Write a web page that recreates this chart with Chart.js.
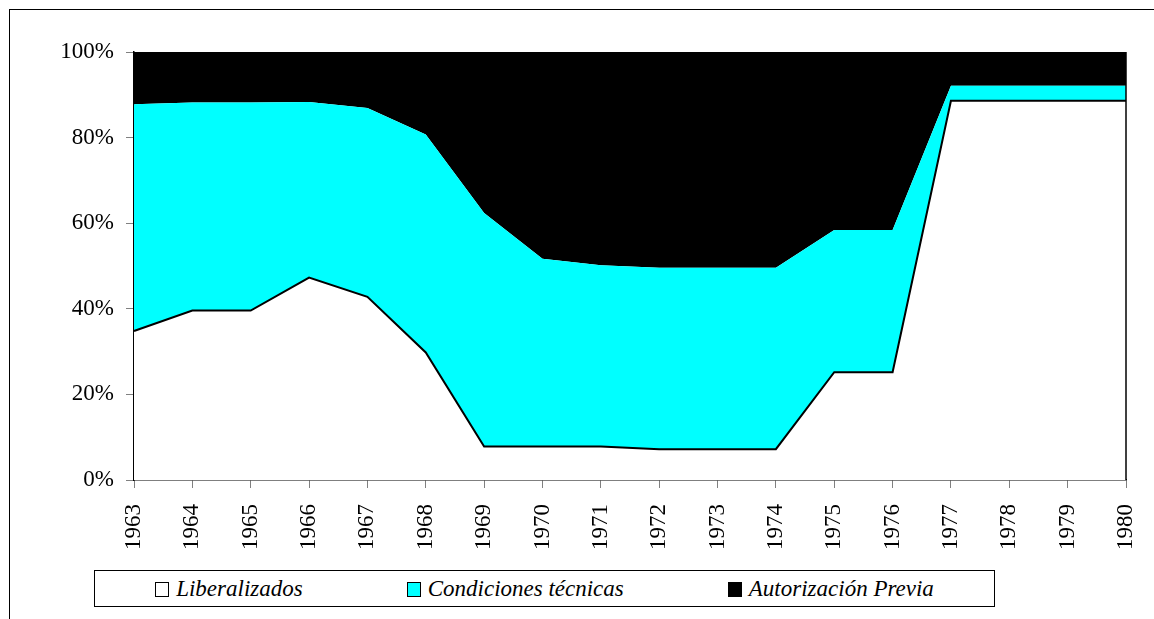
<!DOCTYPE html>
<html>
<head>
<meta charset="utf-8">
<script src="https://cdn.jsdelivr.net/npm/chart.js@4.4.0/dist/chart.umd.min.js"></script>
<style>
  html, body { margin: 0; padding: 0; background: #fff; }
  #wrap { position: relative; width: 1154px; height: 619px; overflow: hidden; }
  #frame { position: absolute; left: 9px; top: 9px; width: 1200px; height: 700px;
           border-top: 1px solid #000; border-left: 1px solid #000; }
  canvas { position: absolute; left: 0; top: 0; }
  #legend { position: absolute; left: 94px; top: 570px; width: 899px; height: 35px;
            border: 1px solid #000; display: flex; align-items: center; justify-content: center;
            gap: 104px; font-family: "Liberation Serif", "Times New Roman", serif; font-style: italic;
            font-size: 23px; color: #000; background: #fff; }
  .item { display: flex; align-items: center; white-space: nowrap; }
  .sw { width: 12px; height: 13px; border: 1px solid #000; margin-right: 7px; margin-top: 2px; }
</style>
</head>
<body>
<div id="wrap">
  <div id="frame"></div>
  <canvas id="c" width="1154" height="619"></canvas>
  <div id="legend"></div>
</div>
<script>
const years = ['1963','1964','1965','1966','1967','1968','1969','1970','1971','1972','1973','1974','1975','1976','1977','1978','1979','1980'];
const liberalizados = [34.8, 39.6, 39.6, 47.3, 42.8, 29.8, 7.8, 7.8, 7.8, 7.2, 7.2, 7.2, 25.2, 25.2, 88.6, 88.6, 88.6, 88.6];
const condicionesTecnicas = [53.0, 48.6, 48.6, 41.0, 44.1, 50.9, 54.6, 43.9, 42.4, 42.4, 42.4, 42.4, 33.2, 33.2, 3.5, 3.5, 3.5, 3.5];
const autorizacionPrevia = [12.2, 11.8, 11.8, 11.7, 13.1, 19.3, 37.6, 48.3, 49.8, 50.4, 50.4, 50.4, 41.6, 41.6, 7.9, 7.9, 7.9, 7.9];
const seriesNames = ['Liberalizados', 'Condiciones técnicas', 'Autorización Previa'];
const yTicks = [0, 20, 40, 60, 80, 100];

const FONT = { family: '"Liberation Serif", "Times New Roman", serif', size: 23 };

const plotBorder = {
  id: 'plotBorder',
  afterDraw(chart) {
    const a = chart.chartArea, ctx = chart.ctx;
    ctx.save();
    ctx.strokeStyle = '#000';
    ctx.lineWidth = 1.5;
    ctx.beginPath();
    ctx.moveTo(a.right, a.top);
    ctx.lineTo(a.right, a.bottom);
    ctx.stroke();
    ctx.restore();
  }
};

const chart = new Chart(document.getElementById('c'), {
  type: 'line',
  data: {
    labels: years,
    datasets: [
      { label: seriesNames[0], data: liberalizados, fill: 'origin', backgroundColor: '#ffffff',
        borderColor: '#000000', borderWidth: 2, pointRadius: 0, tension: 0 },
      { label: seriesNames[1], data: condicionesTecnicas, fill: '-1', backgroundColor: '#00ffff',
        borderColor: 'rgba(0,0,0,0)', borderWidth: 0, pointRadius: 0, tension: 0 },
      { label: seriesNames[2], data: autorizacionPrevia, fill: '-1', backgroundColor: '#000000',
        borderColor: 'rgba(0,0,0,0)', borderWidth: 0, pointRadius: 0, tension: 0 }
    ]
  },
  options: {
    responsive: false,
    animation: false,
    layout: { padding: { left: 0, right: 28, top: 52, bottom: 64 } },
    plugins: { legend: { display: false }, tooltip: { enabled: false } },
    scales: {
      x: {
        type: 'category',
        offset: false,
        grid: { display: true, drawOnChartArea: false, drawTicks: true, tickLength: 8, color: '#808080', lineWidth: 1 },
        border: { display: true, color: '#000', width: 1.5 },
        ticks: { autoSkip: false, minRotation: 90, maxRotation: 90, color: '#000', font: FONT, padding: 16 },
        afterFit(s) { s.height = 75; s.paddingRight = 0; s.paddingLeft = 0; }
      },
      y: {
        stacked: true,
        min: 0, max: 100,
        afterBuildTicks(s) { s.ticks = yTicks.map(v => ({ value: v })); },
        grid: { display: true, drawOnChartArea: false, drawTicks: true, tickLength: 8, color: '#808080', lineWidth: 1 },
        border: { display: true, color: '#000', width: 1.5 },
        ticks: { color: '#000', font: FONT, padding: 12, callback: v => v + '%' },
        afterFit(s) { s.width = 134; }
      }
    }
  },
  plugins: [plotBorder]
});

// HTML legend built from the chart's datasets
const leg = document.getElementById('legend');
chart.data.datasets.forEach(ds => {
  const it = document.createElement('div');
  it.className = 'item';
  const sw = document.createElement('span');
  sw.className = 'sw';
  sw.style.background = ds.backgroundColor;
  const tx = document.createElement('span');
  tx.textContent = ds.label;
  it.appendChild(sw); it.appendChild(tx);
  leg.appendChild(it);
});
</script>
</body>
</html>
